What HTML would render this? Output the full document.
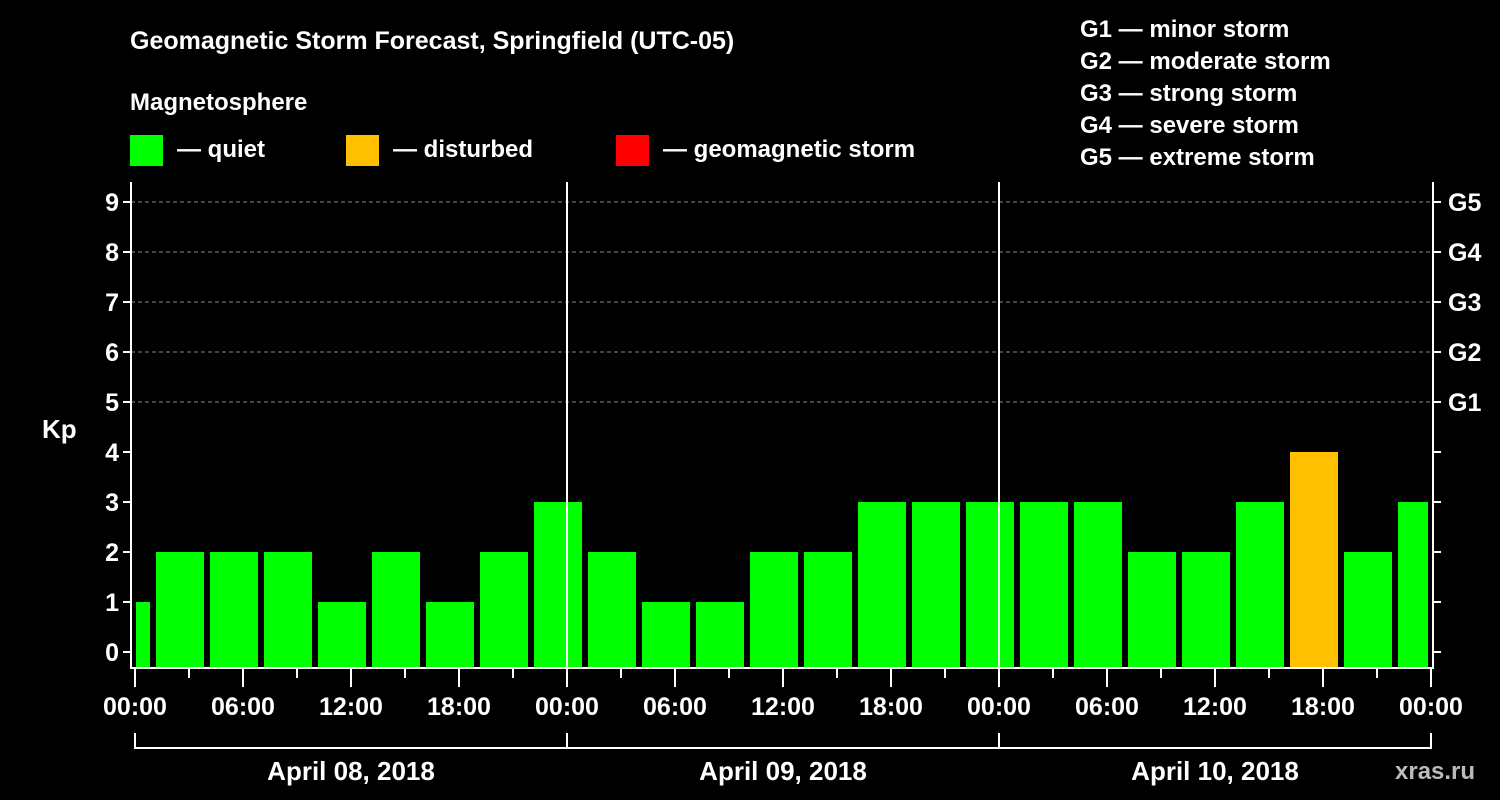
<!DOCTYPE html>
<html><head><meta charset="utf-8"><style>
html,body{margin:0;padding:0;background:#000;}
svg{display:block;font-family:"Liberation Sans",sans-serif;font-weight:bold;}
</style></head><body>
<svg id="chart" width="1500" height="800" viewBox="0 0 1500 800">
<rect x="0" y="0" width="1500" height="800" fill="#000"/>
<text x="130" y="49" fill="#fff" font-size="25">Geomagnetic Storm Forecast, Springfield (UTC-05)</text>
<text x="130" y="110" fill="#fff" font-size="24">Magnetosphere</text>
<g><rect x="130" y="135" width="33" height="31" fill="#00ff00"/><text x="177" y="157" fill="#fff" font-size="24">— quiet</text></g>
<g><rect x="346" y="135" width="33" height="31" fill="#ffc000"/><text x="393" y="157" fill="#fff" font-size="24">— disturbed</text></g>
<g><rect x="616" y="135" width="33" height="31" fill="#ff0000"/><text x="663" y="157" fill="#fff" font-size="24">— geomagnetic storm</text></g>
<g fill="#fff" font-size="24">
<text x="1080" y="37">G1 — minor storm</text>
<text x="1080" y="69">G2 — moderate storm</text>
<text x="1080" y="101">G3 — strong storm</text>
<text x="1080" y="133">G4 — severe storm</text>
<text x="1080" y="165">G5 — extreme storm</text>
</g>
<text x="42" y="438" fill="#fff" font-size="26">Kp</text>
<g id="grid"></g>
<g id="bars"></g>
<g id="axes"></g>
<text x="1395" y="779" fill="#bbb" font-size="24">xras.ru</text>
</svg>
<script>
const kpValues = [1,2,2,2,1,2,1,2,3,2,1,1,2,2,3,3,3,3,3,2,2,3,4,2,3];
const yTicks = [0,1,2,3,4,5,6,7,8,9];
const gLabels = ["G1","G2","G3","G4","G5"];
const xTickLabels = ["00:00","06:00","12:00","18:00","00:00","06:00","12:00","18:00","00:00","06:00","12:00","18:00","00:00"];
const dayLabels = ["April 08, 2018","April 09, 2018","April 10, 2018"];

const NS="http://www.w3.org/2000/svg";
const L=131,R=1433,T=182,B=668,X0=135,PXH=18;
const y=v=>652-v*50;
const x=h=>X0+h*PXH;
function mk(tag,attrs,parent){const e=document.createElementNS(NS,tag);for(const k in attrs)e.setAttribute(k,attrs[k]);parent.appendChild(e);return e;}
const grid=document.getElementById('grid'),bars=document.getElementById('bars'),axes=document.getElementById('axes');

yTicks.forEach(v=>{
  if(v>=5){const g=mk('line',{x1:L,x2:R,y1:y(v),y2:y(v),stroke:'#888','stroke-width':1,'stroke-dasharray':'4,3'},grid);
  
  }
});
kpValues.forEach((v,i)=>{
  const c=x(i*3-0.5);
  let x1=Math.max(c-24,X0+1),x2=Math.min(c+24,1428);
  const r=mk('rect',{x:x1,y:y(v),width:x2-x1,height:B-y(v),fill:v>=5?'#ff0000':(v>=4?'#ffc000':'#00ff00')},bars);
  
  
});
// vertical day separators
[1,2].forEach(d=>{const l=mk('line',{x1:x(d*24),x2:x(d*24),y1:T,y2:B,stroke:'#fff','stroke-width':2},axes);

});
const frame=mk('path',{d:`M${L} ${T} V${B} H${R} V${T}`,fill:'none',stroke:'#fff','stroke-width':2},axes);


yTicks.forEach(v=>{
  mk('line',{x1:L-8,x2:L,y1:y(v),y2:y(v),stroke:'#fff','stroke-width':2},axes);
  mk('line',{x1:R,x2:R+8,y1:y(v),y2:y(v),stroke:'#fff','stroke-width':2},axes);
  const t=mk('text',{x:L-12,y:y(v)+9,fill:'#fff','font-size':25,'text-anchor':'end'},axes);
  t.textContent=v;
  
  
  if(v>=5){const g=mk('text',{x:R+15,y:y(v)+9,fill:'#fff','font-size':25},axes);
  g.textContent=gLabels[v-5];
  
  }
});
for(let h=0;h<=72;h+=3){
  const major=h%6===0;
  mk('line',{x1:x(h),x2:x(h),y1:B,y2:major?687:678,stroke:'#fff','stroke-width':2},axes);
  if(major){const t=mk('text',{x:x(h),y:715,fill:'#fff','font-size':25,'text-anchor':'middle'},axes);
  t.textContent=xTickLabels[h/6];
  
  }
}
const br=mk('path',{d:`M${x(0)} 733 V748 H${x(72)} V733 M${x(24)} 733 V748 M${x(48)} 733 V748`,fill:'none',stroke:'#fff','stroke-width':2},axes);


dayLabels.forEach((d,i)=>{const t=mk('text',{x:x(i*24+12),y:780,fill:'#fff','font-size':26,'text-anchor':'middle'},axes);
t.textContent=d;

});
</script>
</body></html>
